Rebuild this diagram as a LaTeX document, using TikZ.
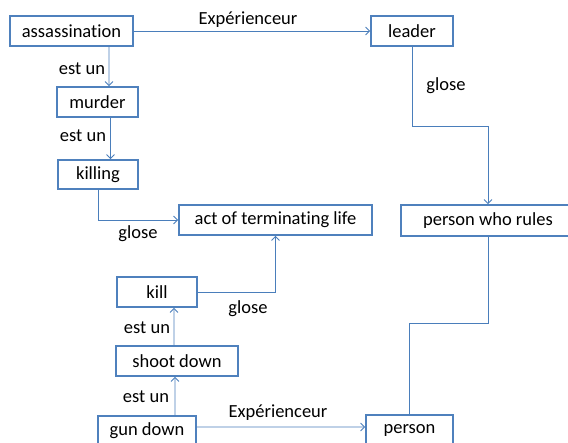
\documentclass[tikz,border=0pt]{standalone}
\usepackage{fontspec}
\setmainfont[Ligatures=NoCommon]{Carlito}
\usetikzlibrary{arrows.meta}
\definecolor{boxblue}{HTML}{4F81BD}
\definecolor{lineblue}{HTML}{4A7EBB}
\tikzset{
  concept/.style={draw=boxblue, line width=1.6bp, fill=white, inner sep=0pt,
    minimum height=30bp, font=\fontsize{18.5bp}{21bp}\selectfont, text=black},
  link/.style={draw=lineblue, line width=0.9bp},
  arr/.style={link, -{Straight Barb[length=4bp,width=8bp,line width=0.9bp]}},
  lbl/.style={inner sep=0pt, font=\fontsize{18.5bp}{21bp}\selectfont, text=black}
}
\begin{document}
\begin{tikzpicture}[x=1bp,y=-1bp]
\useasboundingbox (0,0) rectangle (568,443);
\clip (0,0) rectangle (568,443);
% nodes
\node[concept, minimum width=123bp] (ass) at (71.5,31) {assassination};
\node[concept, minimum width=82bp] (leader) at (412,31) {leader};
\node[concept, minimum width=81bp] (murder) at (97.5,102) {murder};
\node[concept, minimum width=80bp, minimum height=29bp] (killing) at (98,174.5) {killing};
\node[concept, minimum width=193bp] (act) at (275.5,220) {act of terminating life};
\node[concept, minimum width=174bp, minimum height=31bp] (prw) at (488,220.5) {person who rules};
\node[concept, minimum width=80bp] (kill) at (157,292) {kill};
\node[concept, minimum width=122bp] (shoot) at (177,361) {shoot down};
\node[concept, minimum width=98bp] (gun) at (147,431) {gun down};
\node[concept, minimum width=87bp] (person) at (409.5,430) {person};
% connectors
\draw[arr] (ass.east) -- (leader.west);
\draw[arr] ([xshift=37.5bp]ass.south) -- ([xshift=11.5bp]murder.north);
\draw[arr] ([xshift=13bp]murder.south) -- ([xshift=12.5bp]killing.north);
\draw[arr] (killing.south) |- (act.west);
\draw[arr] (leader.south) -- ++(0,79.7) -| (prw.north);
\draw[arr] (kill.east) -| (act.south);
\draw[arr] ([xshift=-3bp]shoot.north) -- ([xshift=17bp]kill.south);
\draw[arr] ([xshift=28bp]gun.north) -- ([xshift=-2bp]shoot.south);
\draw[arr] ([yshift=4bp]gun.east) -- ([yshift=3bp]person.west);
\draw[link] (person.north) -- ++(0,-91) -| (prw.south);
% labels
\node[lbl] (l1) at (248,20) {Expérienceur};
\node[lbl] (l2) at (82,69) {est un};
\node[lbl] (l3) at (83,136) {est un};
\node[lbl] (l4) at (138,234) {glose};
\node[lbl] (l5) at (446,86) {glose};
\node[lbl] (l6) at (248,309) {glose};
\node[lbl] (l7) at (147,328) {est un};
\node[lbl] (l8) at (146,397) {est un};
\node[lbl] (l9) at (278,413) {Expérienceur};
\end{tikzpicture}
\end{document}
